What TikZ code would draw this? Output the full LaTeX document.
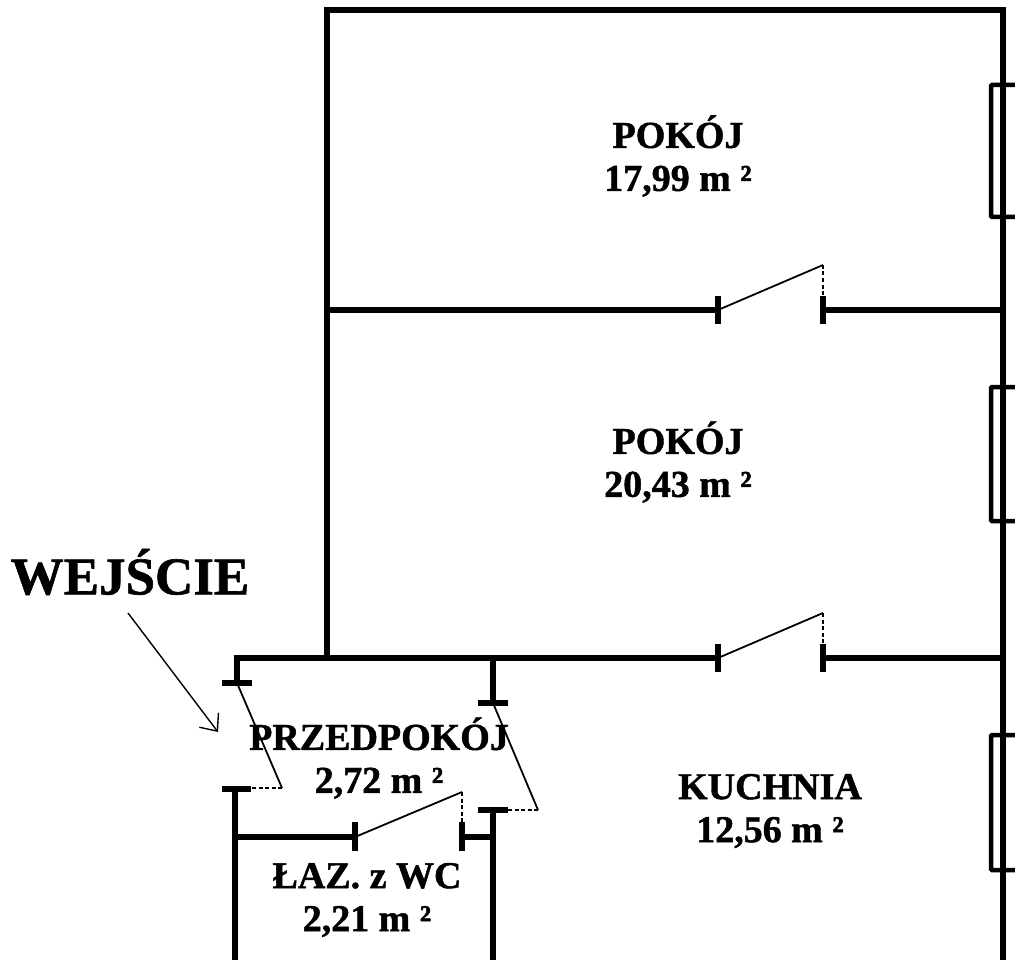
\documentclass[tikz,border=0pt]{standalone}
\usepackage{fontspec}
\setmainfont{Liberation Serif}[BoldFeatures={FakeBold=1.2}]
\usetikzlibrary{arrows.meta}
\begin{document}
\begin{tikzpicture}[x=1pt,y=-1pt,
  wall/.style={line width=5.8pt,line join=miter},
  tick/.style={line width=5.8pt},
  leaf/.style={line width=1.8pt},
  dsh/.style={line width=1.3pt,dash pattern=on 4pt off 2.5pt},
  win/.style={line width=4.5pt,rounded corners=1pt},
  lbl/.style={font=\bfseries\fontsize{38}{43}\selectfont,align=center,inner sep=0pt},
  big/.style={font=\bfseries\fontsize{53}{60}\selectfont,inner sep=0pt}]
\useasboundingbox (0,0) rectangle (1015,960);
% outer and main walls
\draw[wall] (327,658) -- (327,10) -- (1003,10) -- (1003,960);
\draw[wall] (327,310) -- (718,310);
\draw[wall] (823,310) -- (1003,310);
\draw[wall] (237,683) -- (237,658) -- (718,658);
\draw[wall] (823,658) -- (1003,658);
% door room1-room2
\draw[tick] (718,296) -- (718,324);
\draw[tick] (823,296) -- (823,324);
\draw[leaf] (718,310) -- (823,265);
\draw[dsh] (823,265) -- (823,296);
% door room2-kitchen
\draw[tick] (718,644) -- (718,672);
\draw[tick] (823,644) -- (823,672);
\draw[leaf] (718,658) -- (823,613);
\draw[dsh] (823,613) -- (823,644);
% entrance door
\draw[tick] (222,683) -- (252,683);
\draw[leaf] (237,683) -- (282,788);
\draw[dsh] (252,788) -- (282,788);
\draw[tick] (222,789) -- (251,789);
\draw[wall] (235,789) -- (235,960);
% bathroom
\draw[wall] (235,837) -- (355,837);
\draw[tick] (355,822) -- (355,851);
\draw[leaf] (355,837) -- (462,792);
\draw[dsh] (462,792) -- (462,822);
\draw[tick] (462,822) -- (462,851);
\draw[wall] (462,837) -- (493,837);
% kitchen door
\draw[wall] (493,658) -- (493,703);
\draw[tick] (478,703) -- (508,703);
\draw[leaf] (493,703) -- (538,810);
\draw[dsh] (508,810) -- (538,810);
\draw[tick] (478,810) -- (508,810);
\draw[wall] (493,810) -- (493,960);
% windows
\draw[win] (1022,85) -- (991,85) -- (991,217) -- (1022,217);
\draw[win] (1022,387) -- (991,387) -- (991,521) -- (1022,521);
\draw[win] (1022,735) -- (991,735) -- (991,870) -- (1022,870);
% labels
\node[lbl] (p1) at (678,156) {POKÓJ\\17,99 m ²};
\node[lbl] (p2) at (678,462) {POKÓJ\\20,43 m ²};
\node[lbl] (ku) at (770,811) {KUCHNIA\\12,56 m ²};
\node[lbl] (pr) at (379,758) {PRZEDPOKÓJ\\2,72 m ²};
\node[lbl] (la) at (367,900) {ŁAZ. z WC\\2,21 m ²};
\node[big] (we) at (130,572) {WEJŚCIE};
\coordinate (as) at (128,613);
\coordinate (ae) at (218,732);
\draw[line width=1.4pt,-{Straight Barb[length=14pt,width=24pt,line width=1.4pt]}] (as) -- (ae);
\end{tikzpicture}
\end{document}
